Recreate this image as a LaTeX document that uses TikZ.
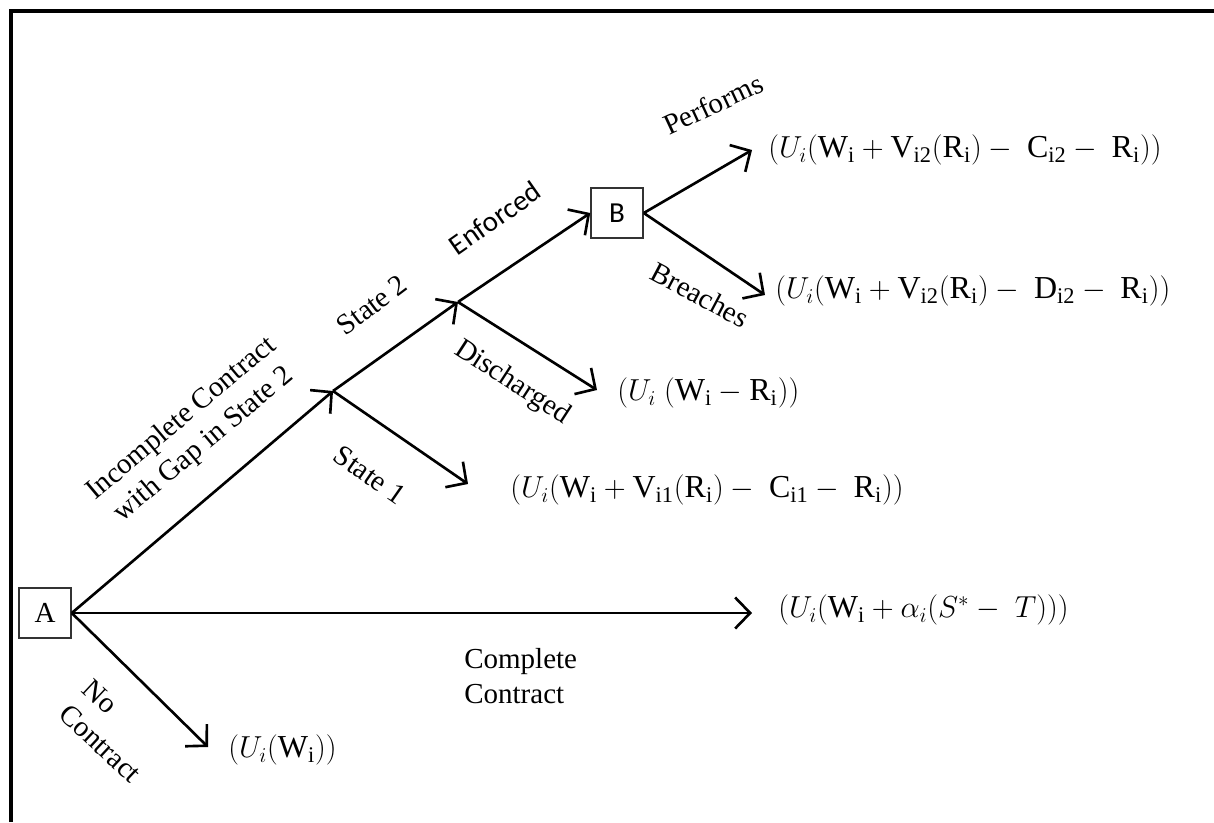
\documentclass[tikz,border=0pt]{standalone}
\usepackage{amsmath}
\usepackage{fontspec}
\setmainfont{Liberation Serif}
\newfontfamily\calibfont{Carlito}
\usetikzlibrary{arrows.meta,positioning}

\begin{document}
\begin{tikzpicture}[
		x=0.02cm, y=0.02cm,
		branch/.style={-{Straight Barb[length=0.3cm,width=0.62cm]},line width=1.5pt},
		box/.style={draw=black!80,line width=0.9pt,minimum width=1.04cm,minimum height=1cm,inner sep=0pt,font=\fontsize{16.5}{19.5}\selectfont},
		lab/.style={font=\fontsize{16.5}{19.5}\selectfont,inner sep=0pt},
		pay/.style={anchor=west,font=\fontsize{18.2}{21}\selectfont,inner sep=0pt}]

	\useasboundingbox (0,0) rectangle (1214,-822);
	\draw[line width=2pt] (11,-822) -- (11,-11) -- (1214,-11);

	% decision nodes
	\node[box] (A) at (45,-613) {A};
	\node[box,font=\calibfont\fontsize{16.5}{19.5}\selectfont] (B) at (617,-213) {B};
	\coordinate (j1) at (333,-391);
	\coordinate (j2) at (458,-302);

	% arrow ends
	\coordinate (tPerf) at (752,-150);
	\coordinate (tBreach) at (765,-295);
	\coordinate (tDis) at (597,-390);
	\coordinate (tOne) at (468,-484);
	\coordinate (tComp) at (752,-613);
	\coordinate (tNo) at (208,-747);

	% payoffs
	\node[pay] (pPerf) at (768,-150) {$(U_i(\mathrm{W_i}+\mathrm{V_{i2}}(\mathrm{R_i})-\ \mathrm{C_{i2}}-\ \mathrm{R_i}))$};
	\node[pay] (pBreach) at (775,-291) {$(U_i(\mathrm{W_i}+\mathrm{V_{i2}}(\mathrm{R_i})-\ \mathrm{D_{i2}}-\ \mathrm{R_i}))$};
	\node[pay] (pDis) at (617,-393) {$(U_i\ (\mathrm{W_i}-\mathrm{R_i}))$};
	\node[pay] (pOne) at (510,-490) {$(U_i(\mathrm{W_i}+\mathrm{V_{i1}}(\mathrm{R_i})-\ \mathrm{C_{i1}}-\ \mathrm{R_i}))$};
	\node[pay] (pComp) at (778,-610) {$(U_i(\mathrm{W_i}+\alpha_i(S^*-\ T)))$};
	\node[pay] (pNo) at (228,-750) {$(U_i(\mathrm{W_i}))$};

	% branches
	\draw[branch] (A.east) -- (j1);
	\draw[branch] (j1) -- (j2);
	\draw[branch] (j2) -- (B.west);
	\draw[branch] (B.east) -- (tPerf);
	\draw[branch] (B.east) -- (tBreach);
	\draw[branch] (j2) -- (tDis);
	\draw[branch] (j1) -- (tOne);
	\draw[branch] (A.east) -- (tComp);
	\draw[branch] (A.east) -- (tNo);

	% labels
	\node[lab,rotate=40,align=center] (lInc) at (193,-432) {Incomplete Contract\\with Gap in State 2};
	\node[lab,rotate=37] (lTwo) at (372,-305) {State 2};
	\node[lab,rotate=35,font=\calibfont\fontsize{16.5}{19.5}\selectfont] (lEnf) at (495,-218) {Enforced};
	\node[lab,rotate=-33] (lDis) at (512,-383) {Discharged};
	\node[lab,rotate=-35] (lOne) at (370,-475) {State 1};
	\node[lab,rotate=25] (lPerf) at (713,-104) {Performs};
	\node[lab,rotate=-28] (lBreach) at (700,-295) {Breaches};
	\node[lab,rotate=-43,align=left] (lNo) at (112,-731) {No\\Contract};
	\node[lab,anchor=west,align=left] (lComp) at (464,-676) {Complete\\Contract};
\end{tikzpicture}
\end{document}
